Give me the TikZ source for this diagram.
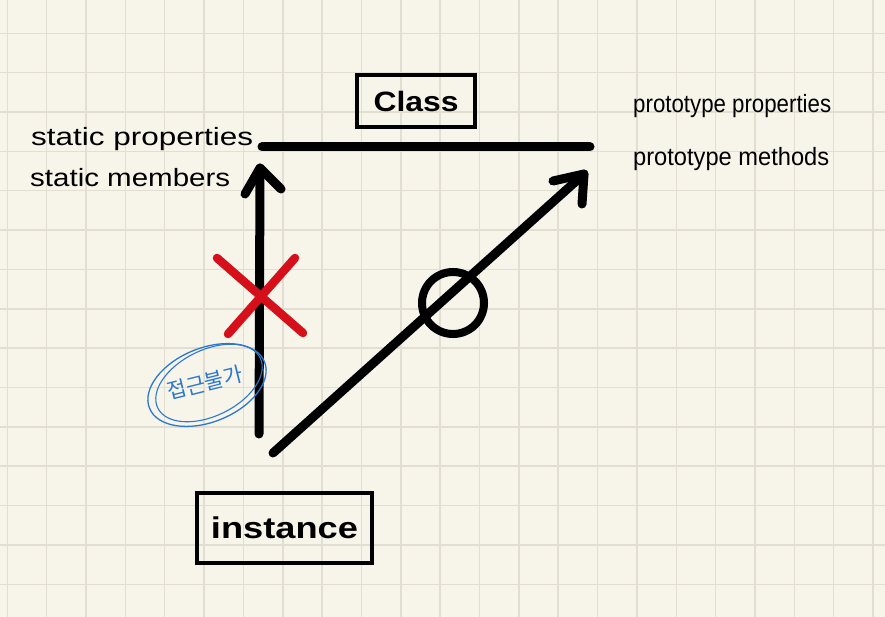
\documentclass[tikz,border=0pt]{standalone}
\usepackage{fontspec}
\setmainfont{Liberation Sans}
\newfontfamily\krfont{Noto Sans CJK KR}
\definecolor{paper}{HTML}{F7F4EA}
\definecolor{gridc}{HTML}{E2DED2}
\definecolor{xred}{HTML}{D6101A}
\definecolor{penblue}{HTML}{2C78CF}
\begin{document}
\begin{tikzpicture}[x=1pt,y=-1pt,
  ink/.style={line width=9pt, line cap=round, line join=round, black},
  boxed/.style={draw=black, line width=3.5pt, inner sep=0pt},
  note/.style={anchor=base west, inner sep=0pt, font=\fontsize{25}{25}\selectfont},
  gridline/.style={gridc, line width=1.5pt}]
\fill[paper] (0,0) rectangle (885,617);
\useasboundingbox (0,0) rectangle (885,617);
\foreach \i in {0,...,22} \draw[gridline] ({7.3+39.35*\i},0) -- ++(0,617);
\foreach \j in {1,...,15} \draw[gridline] (0,{-6+39.35*\j}) -- ++(885,0);

% boxes
\node[boxed, minimum width=118pt, minimum height=52pt] (class) at (416,101)
  {\fontsize{28}{28}\selectfont\bfseries\resizebox{85pt}{\height}{Class}};
\node[boxed, minimum width=175pt, minimum height=70pt] (instance) at (284.5,528)
  {\fontsize{30}{30}\selectfont\bfseries\resizebox{147pt}{\height}{instance}};

% texts
\node[note] (sp) at (31,146) {\resizebox{222pt}{\height}{static properties}};
\node[note] (sm) at (30,187) {\resizebox{200pt}{\height}{static members}};
\node[note] (pp) at (633,113) {\resizebox{198pt}{\height}{prototype properties}};
\node[note] (pm) at (633,166) {\resizebox{196pt}{\height}{prototype methods}};

% coordinates
\coordinate (hl) at (262,147);
\coordinate (hr) at (590,147);
\coordinate (vb) at (259,434);
\coordinate (vt) at (260,168);
\coordinate (vl) at (245,194);
\coordinate (vr) at (281,189);
\coordinate (db) at (273,453);
\coordinate (dt) at (584,174);
\coordinate (dl) at (553,181);
\coordinate (dr) at (582,204);
\coordinate (oc) at (453,303);

% top bar
\draw[ink] (hl) -- (hr);
% vertical arrow
\draw[ink] (vb) -- (vt);
\draw[ink] (vl) -- (vt) -- (vr);
% diagonal arrow
\draw[ink] (db) -- (dt);
\draw[ink] (dl) -- (dt) -- (dr);
% circle
\draw[black, line width=8pt] (oc) circle[radius=31];
% red X
\draw[xred, line width=8.5pt, line cap=round] (217,258) -- (303,333);
\draw[xred, line width=8.5pt, line cap=round] (295,258) -- (228,334);

% blue note
\node[penblue, rotate=14, inner sep=0pt] (kr) at (205,383)
  {\krfont\fontsize{21}{21}\selectfont 접근불가};
\draw[penblue, line width=1.3pt, rotate around={22:(207,385)}] (207,385) ellipse [x radius=62, y radius=37];
\draw[penblue, line width=1.1pt, rotate around={26:(209,383)}] (209,383) ellipse [x radius=57, y radius=33];
\end{tikzpicture}
\end{document}
